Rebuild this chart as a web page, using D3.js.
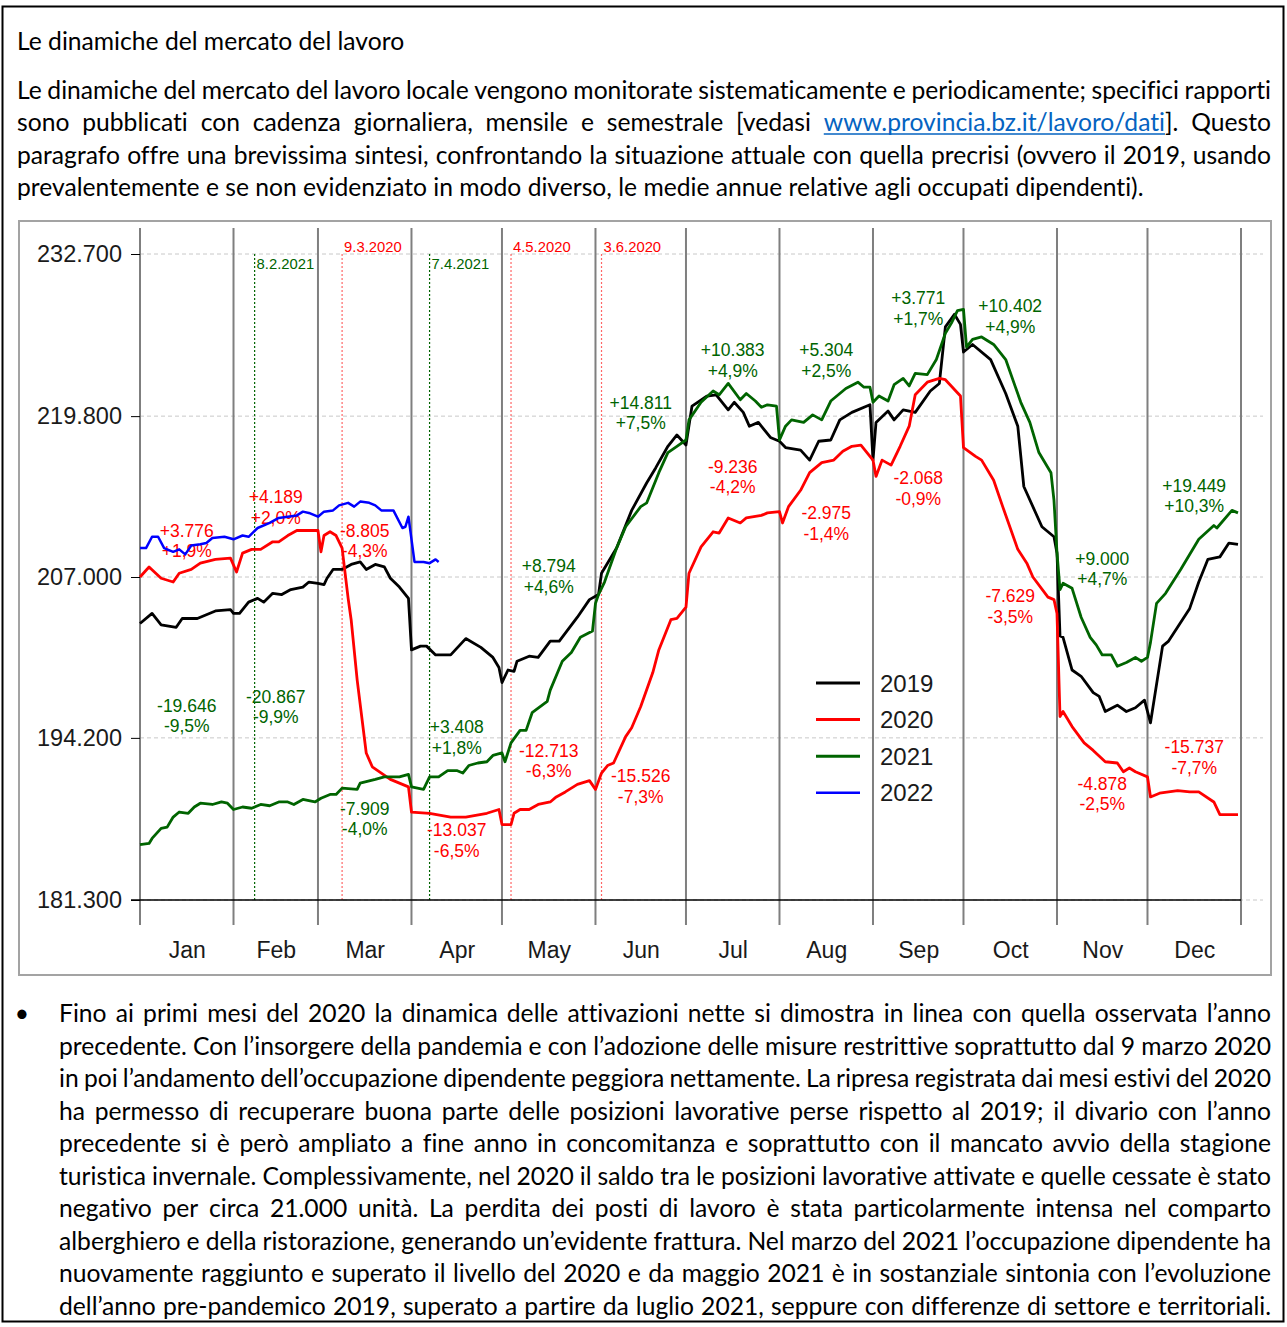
<!DOCTYPE html>
<html lang="it">
<head>
<meta charset="utf-8">
<title>Le dinamiche del mercato del lavoro</title>
<script src="https://cdn.jsdelivr.net/npm/d3@7"></script>
<style>
  body { margin: 0; background: #fff; }
  svg { display: block; }
  .body-text { font-family: Lato, "Open Sans", sans-serif; fill: #000; font-variant-ligatures: none; }
  .chart-text { font-family: "Liberation Sans", Arial, sans-serif; }
</style>
</head>
<body>
<svg id="page"></svg>
<script>
// ---- data (values in thousands of employees, day = day of year, 0 = 1 Jan) ----
var monthNames = ["Jan", "Feb", "Mar", "Apr", "May", "Jun", "Jul", "Aug", "Sep", "Oct", "Nov", "Dec"];
var monthLengths = [31, 28, 31, 30, 31, 30, 31, 31, 30, 31, 30, 31];
var yTicks = [181.3, 194.2, 207.0, 219.8, 232.7];
var seriesNames = ["2019", "2020", "2021", "2022"];

var s2019 = [[0,203.3],[4,204.1],[7,203.2],[12,203.0],[14,203.7],[19,203.7],[25,204.3],[30,204.4],[31,204.1],[33,204.1],[36,205.0],[39,205.3],[41,205.0],[44,205.7],[47,205.6],[50,206.0],[54,206.2],[56,206.6],[59,206.5],[61,206.4],[62,206.9],[64,207.6],[67,207.6],[70,208.0],[73,208.2],[75,207.6],[78,208.0],[81,207.8],[83,206.9],[86,206.2],[89,205.3],[90,201.2],[93,201.5],[95,201.5],[98,200.8],[103,200.8],[108,202.1],[113,201.4],[117,200.6],[119,199.8],[120,198.6],[122,199.6],[124,199.5],[125,200.3],[129,200.7],[132,200.6],[136,201.9],[139,201.9],[145,203.8],[149,205.2],[152,205.6],[153,207.3],[158,209.3],[163,212.3],[168,214.5],[171,215.7],[175,217.4],[178,218.3],[181,217.5],[183,220.6],[188,221.4],[191,221.5],[195,220.3],[197,220.9],[200,220.1],[202,219.0],[205,219.3],[209,218.1],[212,217.8],[214,217.3],[219,217.1],[222,216.3],[225,217.8],[229,217.9],[232,219.5],[236,220.1],[242,220.7],[243,216.3],[244,219.3],[248,220.2],[250,219.5],[253,220.3],[257,220.1],[262,221.8],[265,222.4],[267,226.9],[270,227.9],[272,227.1],[273,224.9],[276,225.5],[282,224.3],[287,221.6],[291,219.0],[293,214.2],[299,211.0],[303,210.2],[304,208.9],[305,202.3],[306,202.2],[309,199.6],[312,199.1],[316,197.8],[318,197.5],[320,196.3],[324,196.8],[327,196.3],[330,196.6],[333,197.2],[335,195.4],[339,201.5],[341,201.9],[348,204.5],[351,206.6],[354,208.4],[358,208.6],[361,209.7],[364,209.6]];

var s2020 = [[0,207.0],[3,207.8],[7,206.9],[11,206.6],[13,207.3],[17,207.6],[20,208.1],[25,208.4],[30,208.5],[32,207.4],[34,208.9],[37,209.2],[40,209.2],[44,209.8],[46,209.8],[49,210.3],[52,210.7],[55,210.7],[59,210.7],[60,209.0],[61,210.3],[63,210.6],[65,210.3],[67,209.3],[69,205.3],[70,203.6],[72,198.8],[75,193.0],[77,191.9],[80,191.4],[83,190.9],[89,190.3],[90,188.3],[96,188.2],[103,187.9],[108,187.9],[115,188.2],[119,188.5],[120,187.3],[123,187.3],[124,188.2],[126,188.5],[129,188.5],[132,188.9],[136,189.1],[138,189.5],[141,189.9],[145,190.5],[149,190.8],[151,190.1],[153,191.4],[155,192.0],[157,192.2],[161,194.3],[163,195.0],[166,196.7],[170,199.4],[172,201.2],[176,203.6],[178,203.7],[181,204.6],[182,207.3],[186,209.4],[190,210.6],[192,210.5],[195,211.7],[199,211.3],[201,211.7],[206,211.9],[208,212.1],[212,212.2],[213,211.3],[215,212.6],[219,213.9],[222,215.3],[226,216.1],[230,216.3],[233,217.0],[236,217.4],[239,217.5],[243,216.3],[244,215.0],[246,216.3],[249,215.9],[252,217.4],[255,219.0],[257,221.5],[261,222.5],[265,222.8],[267,222.7],[272,221.4],[273,217.3],[277,216.6],[279,216.3],[283,214.7],[286,212.6],[291,209.2],[294,208.1],[296,207.0],[301,205.4],[303,205.2],[304,204.1],[305,195.9],[306,196.3],[309,195.1],[313,193.8],[316,193.2],[320,192.3],[324,192.2],[326,191.5],[328,191.8],[330,191.5],[334,191.1],[335,189.5],[338,189.8],[344,190.0],[348,189.9],[351,189.9],[356,189.1],[358,188.1],[364,188.1]];

var s2021 = [[0,185.7],[3,185.8],[4,186.2],[7,187.0],[9,187.1],[11,187.9],[13,188.3],[16,188.2],[18,188.7],[20,189.0],[24,188.9],[27,189.1],[29,189.0],[31,188.5],[34,188.7],[37,188.6],[40,188.9],[43,188.8],[46,189.1],[49,189.1],[51,188.9],[54,189.3],[58,189.1],[60,189.4],[63,189.7],[65,189.7],[67,190.2],[72,190.1],[73,190.6],[78,190.9],[81,191.1],[83,191.1],[86,191.1],[89,191.3],[90,190.3],[94,190.1],[96,191.1],[99,191.1],[102,191.6],[105,191.6],[107,191.4],[109,192.0],[112,192.2],[115,192.3],[117,192.8],[120,193.0],[121,192.3],[123,193.8],[126,194.8],[128,194.8],[130,196.2],[135,197.1],[136,198.0],[140,200.3],[143,201.0],[146,202.2],[150,202.7],[151,204.9],[152,205.6],[154,206.6],[158,209.3],[161,211.0],[166,212.6],[168,212.9],[172,215.3],[175,216.9],[178,217.4],[181,217.9],[182,219.5],[186,220.9],[190,221.8],[192,221.5],[195,222.4],[199,221.1],[201,221.6],[204,221.0],[206,220.5],[208,220.7],[211,220.6],[212,217.9],[214,219.0],[216,219.5],[220,219.3],[223,219.9],[226,219.5],[229,221.0],[232,221.6],[234,222.0],[238,222.5],[240,222.1],[242,222.1],[243,220.9],[245,221.4],[248,221.0],[250,222.3],[253,222.8],[255,222.2],[257,223.2],[261,223.1],[264,224.3],[267,226.4],[269,227.2],[271,228.2],[273,228.3],[274,225.3],[276,225.9],[279,226.1],[283,225.5],[287,224.3],[292,220.9],[295,219.3],[298,216.9],[302,215.3],[303,213.1],[304,208.9],[305,206.0],[306,206.5],[309,206.1],[312,203.8],[315,202.2],[317,201.6],[319,200.8],[322,200.8],[324,199.9],[327,200.2],[330,200.6],[332,200.3],[334,200.6],[335,201.8],[337,204.9],[340,205.7],[345,207.6],[351,210.0],[356,211.1],[357,210.9],[362,212.3],[364,212.1]];

var s2022 = [[0,209.3],[2,209.3],[4,210.2],[6,210.2],[8,209.3],[11,209.0],[13,209.2],[15,208.8],[17,209.5],[20,209.6],[22,209.7],[24,210.1],[28,210.2],[31,210.0],[34,210.3],[36,210.2],[39,210.9],[43,211.3],[46,211.7],[49,211.8],[52,211.9],[54,212.2],[56,212.1],[59,211.8],[61,212.2],[64,212.3],[66,212.7],[69,212.9],[71,212.6],[73,213.0],[76,212.9],[78,212.7],[80,212.3],[84,212.3],[87,210.9],[88,211.0],[89,211.8],[91,208.2],[93,208.2],[94,208.2],[96,208.1],[98,208.4],[99,208.2]];

// vertical markers (dd.mm.yyyy)
var eventDates = ["8.2.2021", "9.3.2020", "7.4.2021", "4.5.2020", "3.6.2020"];

// monthly differences: 2020 vs 2019 (red) and 2021 vs 2020 (green)
var diff2020 = ["+3.776", "+4.189", "-8.805", "-13.037", "-12.713", "-15.526", "-9.236", "-2.975", "-2.068", "-7.629", "-4.878", "-15.737"];
var pct2020 = ["+1,9%", "+2,0%", "-4,3%", "-6,5%", "-6,3%", "-7,3%", "-4,2%", "-1,4%", "-0,9%", "-3,5%", "-2,5%", "-7,7%"];
var level2020 = [210.7, 213.4, 210.7, 186.9, 193.2, 191.2, 215.8, 212.1, 214.9, 205.5, 190.6, 193.5];
var diff2021 = ["-19.646", "-20.867", "-7.909", "+3.408", "+8.794", "+14.811", "+10.383", "+5.304", "+3.771", "+10.402", "+9.000", "+19.449"];
var pct2021 = ["-9,5%", "-9,9%", "-4,0%", "+1,8%", "+4,6%", "+7,5%", "+4,9%", "+2,5%", "+1,7%", "+4,9%", "+4,7%", "+10,3%"];
var level2021 = [196.8, 197.5, 188.6, 195.1, 207.9, 220.9, 225.1, 225.1, 229.2, 228.6, 208.5, 214.3];

// text of the page
var title = "Le dinamiche del mercato del lavoro";
var linkText = "www.provincia.bz.it/lavoro/dati";
var introLines = [
  "Le dinamiche del mercato del lavoro locale vengono monitorate sistematicamente e periodicamente; specifici rapporti",
  "sono pubblicati con cadenza giornaliera, mensile e semestrale [vedasi www.provincia.bz.it/lavoro/dati]. Questo",
  "paragrafo offre una brevissima sintesi, confrontando la situazione attuale con quella precrisi (ovvero il 2019, usando",
  "prevalentemente e se non evidenziato in modo diverso, le medie annue relative agli occupati dipendenti)."
];
var bulletLines = [
  "Fino ai primi mesi del 2020 la dinamica delle attivazioni nette si dimostra in linea con quella osservata l’anno",
  "precedente. Con l’insorgere della pandemia e con l’adozione delle misure restrittive soprattutto dal 9 marzo 2020",
  "in poi l’andamento dell’occupazione dipendente peggiora nettamente. La ripresa registrata dai mesi estivi del 2020",
  "ha permesso di recuperare buona parte delle posizioni lavorative perse rispetto al 2019; il divario con l’anno",
  "precedente si è però ampliato a fine anno in concomitanza e soprattutto con il mancato avvio della stagione",
  "turistica invernale. Complessivamente, nel 2020 il saldo tra le posizioni lavorative attivate e quelle cessate è stato",
  "negativo per circa 21.000 unità. La perdita dei posti di lavoro è stata particolarmente intensa nel comparto",
  "alberghiero e della ristorazione, generando un’evidente frattura. Nel marzo del 2021 l’occupazione dipendente ha",
  "nuovamente raggiunto e superato il livello del 2020 e da maggio 2021 è in sostanziale sintonia con l’evoluzione",
  "dell’anno pre-pandemico 2019, superato a partire da luglio 2021, seppure con differenze di settore e territoriali."
];

// ---- styles ----
var seriesColors = ["#000000", "#ff0000", "#006400", "#0000ff"];
var yearColor = { "2020": "#ff0000", "2021": "#006400" };
var red = "#ff0000", green = "#006400";

var W = 1287, H = 1327;
var svg = d3.select("#page").attr("width", W).attr("height", H);

// page border and chart frame
svg.append("rect").attr("x", 2.5).attr("y", 6.5).attr("width", 1281).attr("height", 1315)
  .attr("fill", "none").attr("stroke", "#000").attr("stroke-width", 2);
svg.append("rect").attr("x", 19).attr("y", 221).attr("width", 1252).attr("height", 754)
  .attr("fill", "none").attr("stroke", "#a3a3a3").attr("stroke-width", 2);

// ---- text blocks ----
var ctx = document.createElement("canvas").getContext("2d");
ctx.font = "100px Lato";
var fontSize = (100 * 1128) / ctx.measureText(introLines[3]).width;

function fillWord(t, w) {
  var k = w.indexOf(linkText);
  if (k < 0) { t.text(w); return null; }
  if (k > 0) t.append("tspan").text(w.slice(0, k));
  var l = t.append("tspan").attr("fill", "#0563c1").text(linkText);
  t.append("tspan").text(w.slice(k + linkText.length));
  return l;
}

function textLine(str, x0, width, baseline, justify) {
  var grp = svg.append("g").attr("class", "body-text").style("font-size", fontSize + "px");
  if (!justify) {
    grp.append("text").attr("x", x0).attr("y", baseline).text(str);
    return;
  }
  var words = str.split(" ");
  var links = [];
  var nodes = words.map(function (w) {
    var t = grp.append("text").attr("y", baseline);
    links.push(fillWord(t, w));
    return t;
  });
  var widths = nodes.map(function (t) { return t.node().getComputedTextLength(); });
  var gap = (width - d3.sum(widths)) / (words.length - 1);
  var cx = x0;
  nodes.forEach(function (t, i) {
    t.attr("x", cx);
    if (links[i]) {
      var lw = links[i].node().getComputedTextLength();
      grp.append("line").attr("x1", cx).attr("x2", cx + lw)
        .attr("y1", baseline + 3).attr("y2", baseline + 3)
        .attr("stroke", "#0563c1").attr("stroke-width", 1.3);
    }
    cx += widths[i] + gap;
  });
}

textLine(title, 17, 1254, 49.5, false);
introLines.forEach(function (s, i) {
  textLine(s, 17, 1254, 98.5 + i * 32.5, i < introLines.length - 1);
});
svg.append("text").attr("class", "body-text").style("font-size", fontSize + "px")
  .attr("x", 22).attr("y", 1022).attr("text-anchor", "middle").text("•");
bulletLines.forEach(function (s, i) {
  textLine(s, 59, 1212, 1022 + i * 32.5, true);
});

// ---- chart ----
var x = d3.scaleLinear().domain([0, 365]).range([140, 1241]);
var y = d3.scaleLinear().domain([yTicks[0], yTicks[yTicks.length - 1]]).range([900, 254]);
var monthStart = Array.from(d3.cumsum([0].concat(monthLengths)));
var monthMid = monthLengths.map(function (l, i) { return monthStart[i] + l / 2; });
var fmt = d3.formatLocale({ decimal: ",", thousands: ".", grouping: [3], currency: ["", "€"] }).format(",.0f");

function dayOf(s) {
  var p = s.split(".").map(Number);
  return d3.timeDay.count(new Date(2019, 0, 1), new Date(2019, p[1] - 1, p[0]));
}

var chart = svg.append("g").attr("class", "chart-text");

// dashed horizontal grid
chart.selectAll(".grid").data(yTicks).join("line")
  .attr("class", "grid")
  .attr("x1", x(0)).attr("x2", 1263)
  .attr("y1", function (d) { return y(d); }).attr("y2", function (d) { return y(d); })
  .attr("stroke", "#c8c8c8").attr("stroke-dasharray", "4,3");

// month separators
chart.selectAll(".month-line").data(monthStart).join("line")
  .attr("class", "month-line")
  .attr("x1", function (d) { return x(d); }).attr("x2", function (d) { return x(d); })
  .attr("y1", 228).attr("y2", 925)
  .attr("stroke", "#7f7f7f").attr("stroke-width", 2);

// event markers
var events = eventDates.map(function (d) { return { label: d, day: dayOf(d), year: d.slice(-4) }; });
chart.selectAll(".event").data(events).join("line")
  .attr("class", "event")
  .attr("x1", function (d) { return x(d.day); }).attr("x2", function (d) { return x(d.day); })
  .attr("y1", y(yTicks[4])).attr("y2", y(yTicks[0]))
  .attr("stroke", function (d) { return yearColor[d.year]; })
  .attr("stroke-opacity", function (d) { return d.year === "2020" ? 0.6 : 1; })
  .attr("stroke-width", 1.2).attr("stroke-dasharray", "2,2");
chart.selectAll(".event-label").data(events).join("text")
  .attr("class", "event-label")
  .attr("x", function (d) { return x(d.day) + 2; })
  .attr("y", function (d) { return d.year === "2020" ? y(yTicks[4]) - 2 : y(yTicks[4]) + 15; })
  .attr("fill", function (d) { return yearColor[d.year]; })
  .style("font-size", "14.8px")
  .text(function (d) { return d.label; });

// y axis
var yAxis = chart.append("g").attr("transform", "translate(" + x(0) + ",0)")
  .call(d3.axisLeft(y).tickValues(yTicks).tickSize(9).tickPadding(9)
    .tickFormat(function (d) { return fmt(d * 1000); }));
yAxis.select(".domain").remove();
yAxis.selectAll("text").style("font-size", "23.5px").attr("fill", "#1a1a1a")
  .attr("font-family", "Liberation Sans, Arial, sans-serif");
yAxis.selectAll("line").attr("stroke", "#000");

// x axis line and month labels
chart.append("line").attr("x1", 131).attr("x2", x(365))
  .attr("y1", y(yTicks[0])).attr("y2", y(yTicks[0])).attr("stroke", "#000").attr("stroke-width", 1.3);
var xAxis = chart.append("g").attr("transform", "translate(0," + y(yTicks[0]) + ")")
  .call(d3.axisBottom(x).tickValues(monthMid).tickSize(0).tickPadding(42)
    .tickFormat(function (d, i) { return monthNames[i]; }));
xAxis.select(".domain").remove();
xAxis.selectAll("text").style("font-size", "23px").attr("fill", "#1a1a1a")
  .attr("font-family", "Liberation Sans, Arial, sans-serif");

// monthly annotations
function annotate(diffs, pcts, levels, color) {
  var a = chart.append("g").attr("fill", color).attr("text-anchor", "middle").style("font-size", "17.5px");
  a.selectAll("text.d").data(diffs).join("text").attr("class", "d")
    .attr("x", function (d, i) { return x(monthMid[i]); })
    .attr("y", function (d, i) { return y(levels[i]) + 6.5; })
    .text(function (d) { return d; });
  a.selectAll("text.p").data(pcts).join("text").attr("class", "p")
    .attr("x", function (d, i) { return x(monthMid[i]); })
    .attr("y", function (d, i) { return y(levels[i]) + 27; })
    .text(function (d) { return d; });
}
annotate(diff2020, pct2020, level2020, red);
annotate(diff2021, pct2021, level2021, green);

// series
var line = d3.line().x(function (d) { return x(d[0]); }).y(function (d) { return y(d[1]); });
var series = [s2019, s2020, s2021, s2022];
chart.selectAll(".series").data(series).join("path")
  .attr("class", "series")
  .attr("d", line)
  .attr("fill", "none")
  .attr("stroke", function (d, i) { return seriesColors[i]; })
  .attr("stroke-width", function (d, i) { return i === 3 ? 2.5 : 2.8; })
  .attr("stroke-linejoin", "round");

// legend
var legend = chart.append("g").attr("transform", "translate(816,683)");
var item = legend.selectAll("g").data(seriesNames).join("g")
  .attr("transform", function (d, i) { return "translate(0," + i * 36.6 + ")"; });
item.append("line").attr("x1", 0).attr("x2", 44)
  .attr("stroke", function (d, i) { return seriesColors[i]; })
  .attr("stroke-width", function (d, i) { return i === 3 ? 2.5 : 3; });
item.append("text").attr("x", 64).attr("y", 8.5).style("font-size", "24px").attr("fill", "#1a1a1a")
  .text(function (d) { return d; });
</script>
</body>
</html>
